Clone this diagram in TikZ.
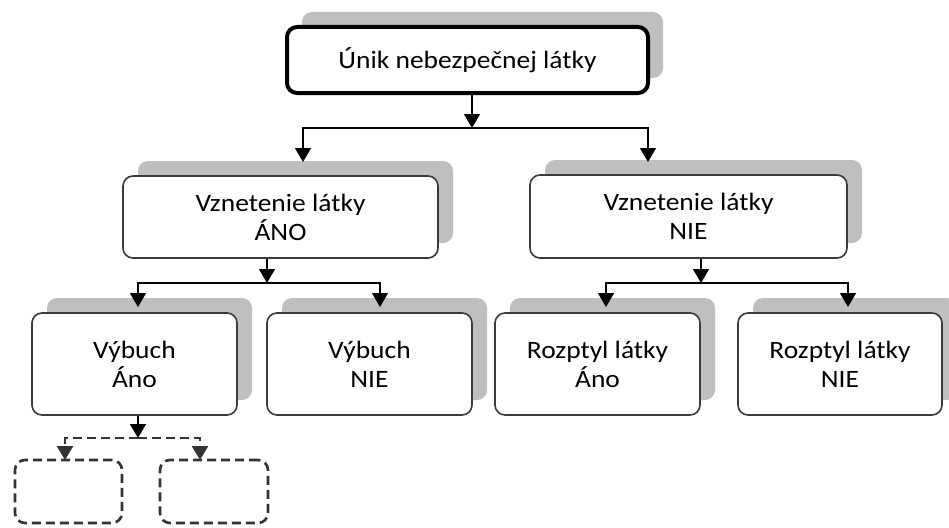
\documentclass[tikz,border=0pt]{standalone}
\usepackage{fontspec}
\setmainfont{Carlito}[FakeStretch=1.1]
\usetikzlibrary{shadows,arrows.meta}
\definecolor{shadowgray}{HTML}{BFBFBF}
\definecolor{boxline}{HTML}{3A3A3A}
\definecolor{dashline}{HTML}{333333}
\begin{document}
\begin{tikzpicture}[x=1pt,y=-1pt,
  boxbase/.style={rounded corners=10pt, fill=white, align=center, inner sep=0pt,
    font=\fontsize{25}{29}\selectfont},
  shadowed/.style={general shadow={fill=shadowgray, shadow xshift=15pt, shadow yshift=15pt}},
  box/.style={boxbase, shadowed, draw=boxline, line width=1.6pt},
  topbox/.style={boxbase, shadowed, draw=black, line width=4pt},
  emptybox/.style={boxbase, draw=dashline, line width=2.6pt, dash pattern=on 9pt off 5pt},
  arr/.style={draw=black, line width=1.4pt, -{Triangle[width=16pt,length=14pt]}},
  darr/.style={draw=dashline, line width=2.6pt, dash pattern=on 9pt off 5pt, -{Triangle[width=16pt,length=14pt,fill=dashline]}}
]
\useasboundingbox (0,0) rectangle (949,527);

% nodes
\node[topbox, minimum width=361pt, minimum height=66pt] (top) at (467.5,60) {Únik nebezpečnej látky};
\node[box, minimum width=315pt, minimum height=82pt] (va) at (280.5,217) {Vznetenie látky\\ÁNO};
\node[box, minimum width=317pt, minimum height=83pt] (vn) at (688.5,216.5) {Vznetenie látky\\NIE};
\node[box, minimum width=205pt, minimum height=102pt] (ba) at (134.5,364) {Výbuch\\Áno};
\node[box, minimum width=205pt, minimum height=102pt] (bn) at (369.5,364) {Výbuch\\NIE};
\node[box, minimum width=205pt, minimum height=102pt] (ra) at (597.5,364) {Rozptyl látky\\Áno};
\node[box, minimum width=204pt, minimum height=102pt] (rn) at (840,364) {Rozptyl látky\\NIE};
\node[emptybox, minimum width=107pt, minimum height=63pt] (ea) at (68.5,491.5) {};
\node[emptybox, minimum width=108pt, minimum height=63pt] (eb) at (214,491.5) {};

% junctions and arrow ends
\coordinate (j1) at (472,128);
\coordinate (t1a) at (303,162);
\coordinate (t1b) at (648,162);
\coordinate (j2) at (267,283);
\coordinate (t2a) at (138,307);
\coordinate (t2b) at (380,307);
\coordinate (j3) at (701,283);
\coordinate (t3a) at (606,307);
\coordinate (t3b) at (848,307);
\coordinate (j4) at (138,438);
\coordinate (t4a) at (65,460);
\coordinate (t4b) at (200,460);

% connectors
\draw[arr] (top.south -| j1) -- (j1);
\draw[arr] (j1) -| (t1a);
\draw[arr] (j1) -| (t1b);
\draw[arr] (va.south -| j2) -- (j2);
\draw[arr] (j2) -| (t2a);
\draw[arr] (j2) -| (t2b);
\draw[arr] (vn.south -| j3) -- (j3);
\draw[arr] (j3) -| (t3a);
\draw[arr] (j3) -| (t3b);
\draw[arr] (ba.south -| j4) -- (j4);
\draw[darr] (j4) -| (t4a);
\draw[darr] (j4) -| (t4b);
\end{tikzpicture}
\end{document}
